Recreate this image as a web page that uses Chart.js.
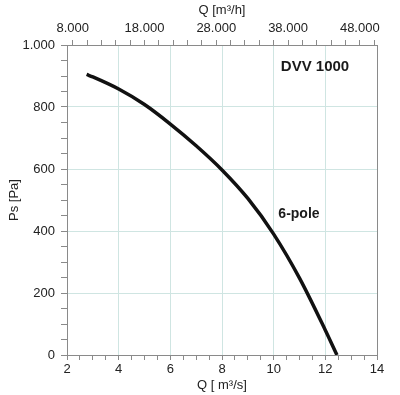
<!DOCTYPE html>
<html>
<head>
<meta charset="utf-8">
<script src="https://cdn.jsdelivr.net/npm/chart.js@4/dist/chart.umd.min.js"></script>
<style>
  body { margin: 0; background: #fff; }
</style>
</head>
<body>
<canvas id="myChart" width="400" height="395"></canvas>
<script>
// datos de la curva
const caudal = [2.76, 3, 4, 5, 6, 7, 8, 9, 10, 11, 12, 12.45];   // m3/s
const presion = [905, 897, 858, 808, 745, 675, 597, 505, 390, 248, 80, 0]; // Pa

// etiquetas de los ejes
const xLabels = [2, 4, 6, 8, 10, 12, 14];
const yLabels = [0, 200, 400, 600, 800, 1000];
const topLabels = [8000, 18000, 28000, 38000, 48000];

// textos
const modelo = "DVV 1000";
const modeloPos = [11.6, 929];
const polos = "6-pole";
const polosPos = [10.98, 455];

const gris = "#8a8a8a";
const rejilla = "#cfe5e2";
const fuente = "'Liberation Sans', Arial, sans-serif";

function pasos(desde, hasta, paso) {
    let lista = [];
    for (let v = desde; v <= hasta + 1e-9; v += paso) lista.push(+v.toFixed(3));
    return lista;
}

function formato(v) {
    return String(v).replace(/\B(?=(\d{3})+(?!\d))/g, ".");
}

const puntos = caudal.map((q, i) => ({ x: q, y: presion[i] }));

const textos = {
    id: "textos",
    afterDatasetsDraw(chart) {
        const ctx = chart.ctx;
        const sx = chart.scales.x;
        const sy = chart.scales.y;
        ctx.save();
        ctx.fillStyle = "#1a1a1a";
        ctx.textAlign = "center";
        ctx.textBaseline = "middle";
        ctx.font = "bold 15px " + fuente;
        ctx.fillText(modelo, sx.getPixelForValue(modeloPos[0]), sy.getPixelForValue(modeloPos[1]));
        ctx.font = "bold 14px " + fuente;
        ctx.fillText(polos, sx.getPixelForValue(polosPos[0]), sy.getPixelForValue(polosPos[1]));
        ctx.restore();
    }
};

const config = {
    type: "line",
    data: {
        datasets: [{
            data: puntos,
            borderColor: "#111",
            borderWidth: 3.5,
            pointRadius: 0,
            cubicInterpolationMode: "monotone",
            fill: false
        }]
    },
    options: {
        responsive: false,
        animation: false,
        layout: { padding: { left: 0, right: 23, top: 0, bottom: 0 } },
        plugins: { legend: { display: false }, tooltip: { enabled: false } },
        scales: {
            x: {
                type: "linear",
                position: "bottom",
                min: 2, max: 14,
                afterBuildTicks: s => { s.ticks = pasos(2, 14, 0.5).map(v => ({ value: v })); },
                afterFit: s => { s.height = 40; },
                grid: {
                    color: c => c.tick && c.tick.value === 14 ? gris : (c.tick && xLabels.includes(c.tick.value) ? rejilla : "rgba(0,0,0,0)"),
                    tickColor: gris,
                    tickLength: 5
                },
                border: { color: gris },
                ticks: {
                    autoSkip: false,
                    maxRotation: 0,
                    padding: 2,
                    color: "#222",
                    font: { family: fuente, size: 13 },
                    callback: v => xLabels.includes(v) ? String(v) : ""
                },
                title: {
                    display: true,
                    text: "Q [ m³/s]",
                    color: "#222",
                    font: { family: fuente, size: 13 },
                    padding: { top: 0, bottom: 2 }
                }
            },
            x2: {
                type: "linear",
                position: "top",
                min: 2 * 3600, max: 14 * 3600,
                afterBuildTicks: s => { s.ticks = pasos(8000, 50000, 2000).map(v => ({ value: v })); },
                afterFit: s => { s.height = 45; },
                grid: { drawOnChartArea: false, tickColor: gris, tickLength: 5 },
                border: { color: gris },
                ticks: {
                    autoSkip: false,
                    maxRotation: 0,
                    padding: 4,
                    color: "#222",
                    font: { family: fuente, size: 13 },
                    callback: v => topLabels.includes(v) ? formato(v) : ""
                },
                title: {
                    display: true,
                    text: "Q [m³/h]",
                    color: "#222",
                    font: { family: fuente, size: 13 },
                    padding: { top: 3, bottom: 0 }
                }
            },
            y: {
                type: "linear",
                min: 0, max: 1000,
                afterBuildTicks: s => { s.ticks = pasos(0, 1000, 50).map(v => ({ value: v })); },
                afterFit: s => { s.width = 67; },
                grid: {
                    color: c => c.tick && c.tick.value === 1000 ? gris : (c.tick && yLabels.includes(c.tick.value) ? rejilla : "rgba(0,0,0,0)"),
                    tickColor: gris,
                    tickLength: 6
                },
                border: { color: gris },
                ticks: {
                    autoSkip: false,
                    padding: 6,
                    color: "#222",
                    font: { family: fuente, size: 13 },
                    callback: v => yLabels.includes(v) ? formato(v) : ""
                },
                title: {
                    display: true,
                    text: "Ps [Pa]",
                    color: "#222",
                    font: { family: fuente, size: 13 },
                    padding: { top: 7, bottom: 0 }
                }
            }
        }
    },
    plugins: [textos]
};

const myChart = new Chart(document.getElementById("myChart"), config);
</script>
</body>
</html>
